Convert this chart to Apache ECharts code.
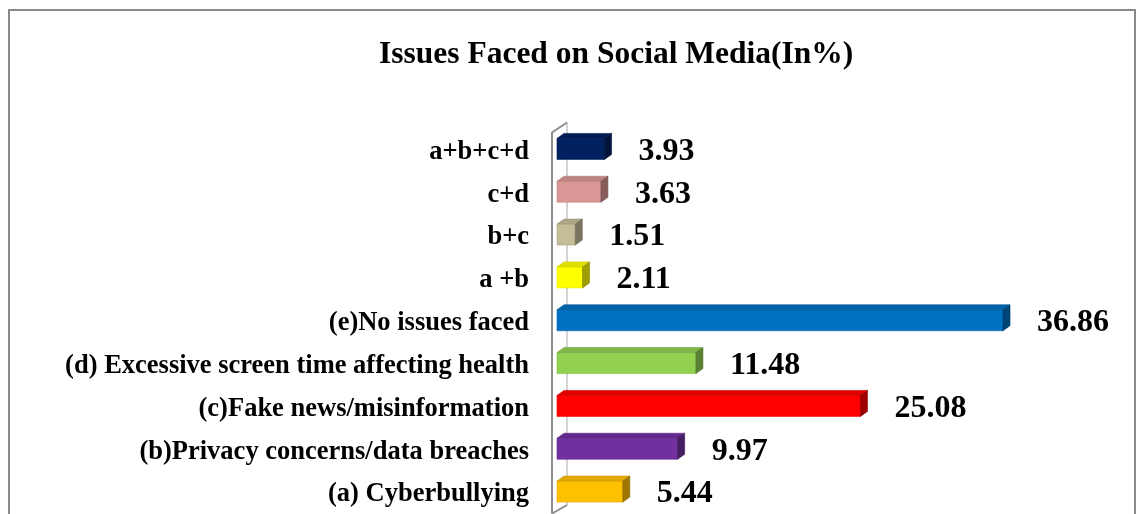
<!DOCTYPE html>
<html>
<head>
<meta charset="utf-8">
<script src="https://cdn.jsdelivr.net/npm/echarts@6/dist/echarts.min.js"></script>
<style>
  html, body { margin: 0; padding: 0; background: #fff; }
  #chart { width: 1136px; height: 514px; }
</style>
</head>
<body>
<div id="chart"></div>
<script>
// Survey responses, bottom row first
const categories = [
  '(a) Cyberbullying',
  '(b)Privacy concerns/data breaches',
  '(c)Fake news/misinformation',
  '(d) Excessive screen time affecting health',
  '(e)No issues faced',
  'a +b',
  'b+c',
  'c+d',
  'a+b+c+d'
];
const values = [5.44, 9.97, 25.08, 11.48, 36.86, 2.11, 1.51, 3.63, 3.93];
const barColors = ['#FFC000', '#7030A0', '#FF0000', '#92D050', '#0070C0', '#FFFF00', '#C4BD97', '#D99694', '#002060'];

const SERIF = '"Times New Roman", "Liberation Serif", serif';

function shade(hex, f) {
  const n = parseInt(hex.slice(1), 16);
  const r = Math.round(((n >> 16) & 255) * f);
  const g = Math.round(((n >> 8) & 255) * f);
  const b = Math.round((n & 255) * f);
  return 'rgb(' + r + ',' + g + ',' + b + ')';
}

// 3D-look bar: front face, top face, right side face, plus the value label
function renderBar(params, api) {
  const v = api.value(0);
  const i = api.value(1);
  const p0 = api.coord([0, i]);
  const p1 = api.coord([v, i]);
  const h = 21, dx = 7, dy = 5;
  const top = p0[1] - 10;
  const x0 = p0[0], x1 = p1[0];
  const c = barColors[params.dataIndex];
  return {
    type: 'group',
    children: [
      { type: 'rect', shape: { x: x0, y: top, width: x1 - x0, height: h },
        style: { fill: c, stroke: shade(c, 0.9), lineWidth: 0.6 } },
      { type: 'polygon', shape: { points: [[x0, top], [x0 + dx, top - dy], [x1 + dx, top - dy], [x1, top]] },
        style: { fill: shade(c, 0.88), stroke: shade(c, 0.8), lineWidth: 0.6 } },
      { type: 'polygon', shape: { points: [[x1, top], [x1 + dx, top - dy], [x1 + dx, top + h - dy], [x1, top + h]] },
        style: { fill: shade(c, 0.62), stroke: shade(c, 0.55), lineWidth: 0.6 } },
      { type: 'text', style: {
          text: v.toFixed(2), x: x1 + 34, y: p0[1] + 3,
          verticalAlign: 'middle', align: 'left',
          font: 'bold 32px ' + SERIF, fill: '#000' } }
    ]
  };
}

// Back wall drawn behind the bars
function renderWall(params, api) {
  const cs = params.coordSys;
  const fx = cs.x - 5, bx = cs.x + 10;
  const fTop = cs.y + 5.5, bTop = cs.y - 4.5;
  const fBot = cs.y + cs.height + 1, bBot = cs.y + cs.height - 7.5;
  return {
    type: 'group',
    children: [
      { type: 'polyline', shape: { points: [[bx, bBot], [bx, bTop]] },
        style: { stroke: '#c4c4c4', lineWidth: 1.5, fill: null } },
      { type: 'polyline', shape: { points: [[fx, fBot], [fx, fTop], [bx, bTop]] },
        style: { stroke: '#8e8e8e', lineWidth: 2, fill: null } },
      { type: 'line', shape: { x1: fx, y1: fBot, x2: bx, y2: bBot },
        style: { stroke: '#8e8e8e', lineWidth: 2 } }
    ]
  };
}

const chart = echarts.init(document.getElementById('chart'));
chart.setOption({
  animation: false,
  backgroundColor: '#fff',
  title: {
    text: 'Issues Faced on Social Media(In%)',
    left: 374,
    top: 34,
    textStyle: { fontFamily: SERIF, fontWeight: 'bold', fontSize: 31.5, color: '#000' }
  },
  graphic: [{
    type: 'rect',
    shape: { x: 9, y: 10, width: 1126, height: 600 },
    style: { fill: null, stroke: '#898989', lineWidth: 2 },
    silent: true
  }],
  grid: { left: 557, right: 95, top: 127, bottom: 1.5 },
  xAxis: { type: 'value', min: 0, max: 40, show: false },
  yAxis: {
    type: 'category',
    data: categories,
    axisLine: { show: false },
    axisTick: { show: false },
    splitLine: { show: false },
    axisLabel: {
      margin: 28,
      formatter: '{c|{value}}',
      rich: {
        c: {
          padding: [7, 0, 0, 0],
          fontFamily: SERIF,
          fontWeight: 'bold',
          fontSize: 26.5,
          color: '#000'
        }
      }
    }
  },
  series: [
    {
      type: 'custom',
      z: 1,
      renderItem: renderWall,
      data: [[0, 0]],
      encode: { x: 0, y: 1 },
      silent: true
    },
    {
      type: 'custom',
      z: 2,
      renderItem: renderBar,
      data: values.map((v, i) => [v, i]),
      encode: { x: 0, y: 1 }
    }
  ]
});
</script>
</body>
</html>
